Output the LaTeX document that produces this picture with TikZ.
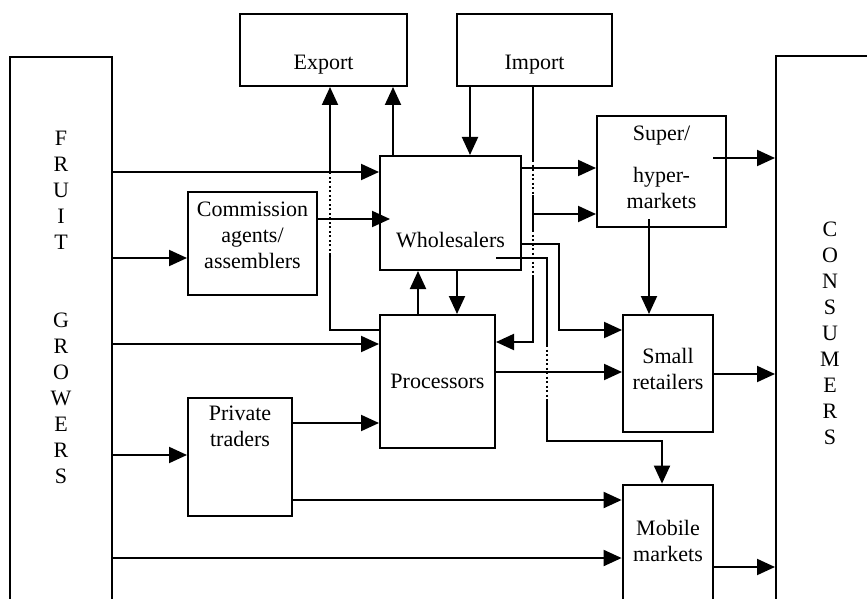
\documentclass[tikz,border=0pt]{standalone}
\usepackage{fontspec}
\setmainfont{Liberation Serif}
\usetikzlibrary{arrows.meta,calc}

\begin{document}
\begin{tikzpicture}[x=1pt, y=-1pt,
    font=\fontsize{22pt}{26pt}\selectfont,
    box/.style={draw, line width=2pt, inner sep=0pt},
    txt/.style={align=center, inner sep=0pt},
    flow/.style={line width=2pt, -{Triangle[length=18pt, width=16pt]}},
    plain/.style={line width=2pt},
    cross/.style={line width=2pt, dash pattern=on 2pt off 2.5pt}]
\useasboundingbox (0,0) rectangle (867,599);

% boxes
\node[box, minimum width=102pt, minimum height=563pt] (growers) at (61,338.5) {};
\node[box, minimum width=124pt, minimum height=564pt] (consumers) at (838,338) {};
\node[box, minimum width=167pt, minimum height=72pt] (export) at (323.5,50) {};
\node[box, minimum width=155pt, minimum height=72pt] (import) at (534.5,50) {};
\node[box, minimum width=129pt, minimum height=103pt] (comm) at (252.5,243.5) {};
\node[box, minimum width=141pt, minimum height=114pt] (wholes) at (450.5,213) {};
\node[box, minimum width=115pt, minimum height=133pt] (procs) at (437.5,381.5) {};
\node[box, minimum width=129pt, minimum height=111pt] (super) at (661.5,171.5) {};
\node[box, minimum width=90pt, minimum height=117pt] (small) at (668,373.5) {};
\node[box, minimum width=104pt, minimum height=118pt] (private) at (240,457) {};
\node[box, line width=2.8pt, minimum width=90pt, minimum height=135pt] (mobile) at (668,552.5) {};

% labels
\node[txt] (growerslbl) at (61,307) {F\\R\\U\\I\\T\\[52pt]G\\R\\O\\W\\E\\R\\S};
\node[txt] (consumerslbl) at (830,333) {C\\O\\N\\S\\U\\M\\E\\R\\S};
\node[txt] (exportlbl) at (323.5,65) {Export};
\node[txt] (importlbl) at (534.5,65) {Import};
\node[txt] (commlbl) at (252.5,235) {Commission\\agents/\\assemblers};
\node[txt] (wholeslbl) at (450.5,240) {Wholesalers};
\node[txt] (procslbl) at (437.5,381) {Processors};
\node[txt] (superlbl) at (661.5,167) {Super/\\[16pt]hyper-\\markets};
\node[txt] (smalllbl) at (668,369) {Small\\retailers};
\node[txt] (privatelbl) at (240,426) {Private\\traders};
\node[txt] (mobilelbl) at (668,541) {Mobile\\markets};

% break points of crossing lines
\coordinate (ea) at (330,255);
\coordinate (eb) at (330,172);
\coordinate (ia) at (533,160);
\coordinate (ib) at (533,195);
\coordinate (ic) at (533,230);
\coordinate (id) at (533,277);
\coordinate (ma) at (547,345);
\coordinate (mb) at (547,400);

% from the growers
\draw[flow] (growers.east |- 0,172) -- (wholes.west |- 0,172);
\draw[flow] (growers.east |- 0,258) -- (comm.west |- 0,258);
\draw[flow] (growers.east |- 0,344) -- (procs.west |- 0,344);
\draw[flow] (growers.east |- 0,455) -- (private.west |- 0,455);
\draw[flow] (growers.east |- 0,558) -- (mobile.west |- 0,558);

% intermediaries
\draw[flow] (comm.east |- 0,219) -- ($(wholes.west |- 0,219)+(11,0)$);
\draw[flow] (private.east |- 0,423) -- (procs.west |- 0,423);
\draw[flow] (private.east |- 0,500) -- (mobile.west |- 0,500);
\draw[flow] (wholes.south -| 457,0) -- (procs.north -| 457,0);
\draw[flow] (procs.north -| 418,0) -- (wholes.south -| 418,0);

% export
\draw[flow] (wholes.north -| 393,0) -- (export.south -| 393,0);
\draw[plain] (procs.west |- 0,330) -| (ea);
\draw[cross] (ea) -- (eb);
\draw[flow] (eb) -- (export.south -| eb);

% import
\draw[flow] (import.south -| 470,0) -- (wholes.north -| 470,0);
\draw[plain] (import.south -| ia) -- (ia);
\draw[cross] (ia) -- (ib);
\draw[plain] (ib) -- (ic);
\draw[flow] (ib |- 0,214) -- (super.west |- 0,214);
\draw[cross] (ic) -- (id);
\draw[flow] (id) |- (procs.east |- 0,342);

% wholesalers to retail
\draw[flow] (wholes.east |- 0,168) -- (super.west |- 0,168);
\draw[flow] (wholes.east |- 0,244) -- (559,244) |- (small.west |- 0,330);
\draw[plain] ($(wholes.east |- 0,258)+(-26,0)$) -| (ma);
\draw[cross] (ma) -- (mb);
\draw[flow] (mb) -- (mb |- 0,441) -| (mobile.north -| 662,0);
\draw[flow] (procs.east |- 0,372) -- (small.west |- 0,372);
\draw[flow] ($(super.south -| 649,0)+(0,-9)$) -- (small.north -| 649,0);

% to the consumers
\draw[flow] ($(super.east |- 0,158)+(-14,0)$) -- (consumers.west |- 0,158);
\draw[flow] (small.east |- 0,374) -- (consumers.west |- 0,374);
\draw[flow] (mobile.east |- 0,567) -- (consumers.west |- 0,567);
\end{tikzpicture}
\end{document}
